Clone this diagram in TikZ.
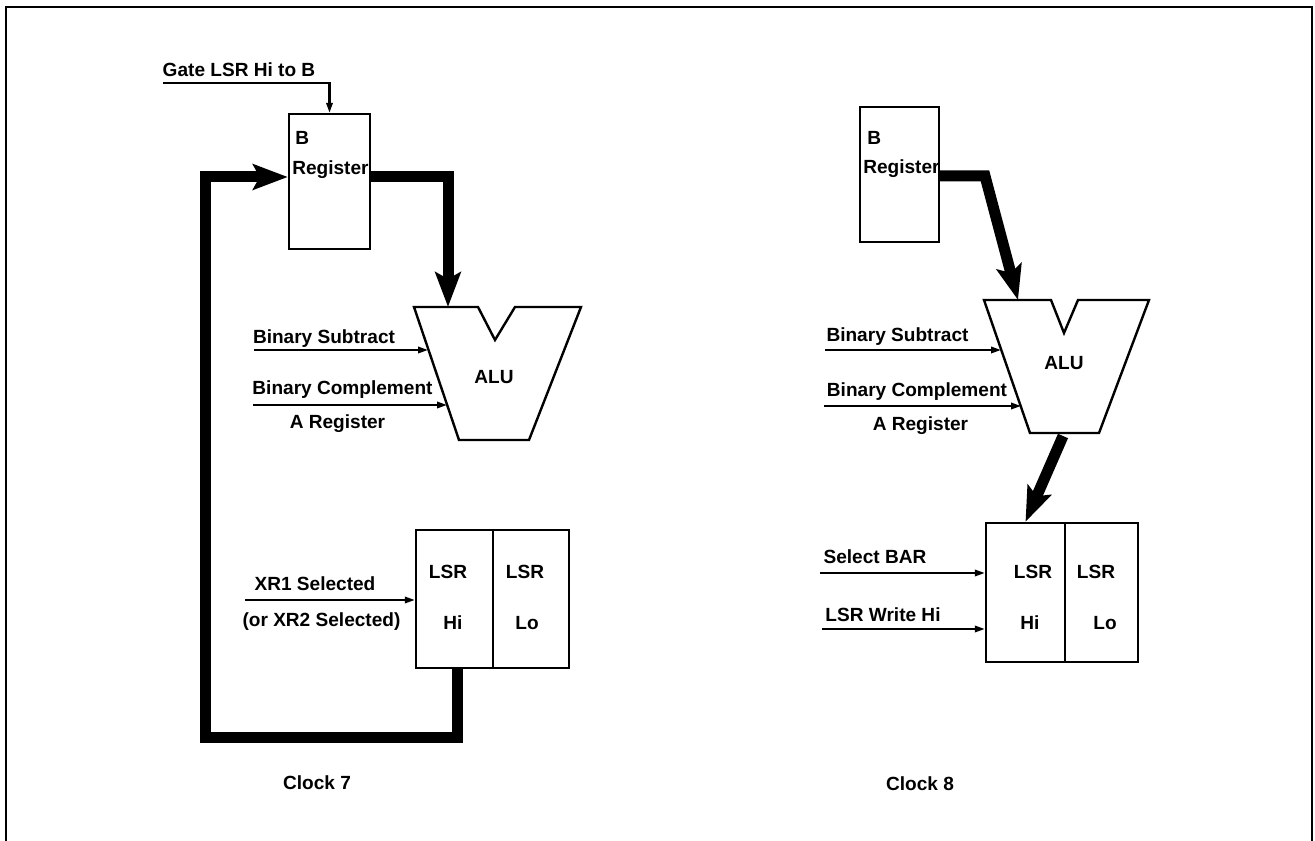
\documentclass[tikz,border=0pt]{standalone}
\usepackage{fontspec}
\setmainfont{Liberation Sans}
\usetikzlibrary{arrows.meta}
\begin{document}
\begin{tikzpicture}[x=0.75pt,y=-0.75pt,
  txt/.style={font=\bfseries\fontsize{14.3pt}{17pt}\selectfont, inner sep=0pt, anchor=base},
  txtw/.style={txt, anchor=base west},
  box/.style={draw, line width=1.8pt, inner sep=0pt},
  sig/.style={line width=1.6pt, -{Triangle[length=7.5pt,width=4.8pt]}},
  bus/.style={line width=8.25pt, line join=miter, -{Stealth[length=26pt,width=19pt,inset=5pt]}},
  frame/.style={line width=2pt},
  alushape/.style={draw, line width=1.8pt, line join=miter}]

\useasboundingbox (0,0) rectangle (1315,841);
\draw[frame] (6,841) -- (6,7) -- (1312,7) -- (1312,841);

% ---------------- Clock 7 ----------------
\node[box, minimum width=60.75pt, minimum height=101.25pt] (breg1) at (329.5,181.5) {};
\node[txtw] (breg1b) at (295,145) {B};
\node[txtw] (breg1r) at (292,175) {Register};

\coordinate (gate1) at (163,83);
\node[txt] (gate1t) at (239,77) {Gate LSR Hi to B};
\draw[sig] (gate1) -| (breg1.north);

\draw[alushape] (414,307) -- (478,307) -- (495,340) -- (515,307) -- (581,307)
  -- (529,440) -- (459,440) -- cycle;
\node[txt] (alu1) at (494,384) {ALU};

\node[txt] (bs1t) at (324,344) {Binary Subtract};
\coordinate (bs1s) at (254,350);
\coordinate (bs1e) at (428,350);
\draw[sig] (bs1s) -- (bs1e);

\node[txt] (bc1t) at (342.5,395) {Binary Complement};
\node[txt] (ar1t) at (337.5,429) {A Register};
\coordinate (bc1s) at (253,405);
\coordinate (bc1e) at (447,405);
\draw[sig] (bc1s) -- (bc1e);

\node[box, minimum width=57.75pt, minimum height=103.5pt] (lsr1h) at (454.5,599) {};
\node[box, minimum width=57pt, minimum height=103.5pt] (lsr1l) at (531,599) {};
\node[txt] (lsr1ht) at (448,579) {LSR};
\node[txt] (lsr1hh) at (453,629) {Hi};
\node[txt] (lsr1lt) at (525,579) {LSR};
\node[txt] (lsr1ll) at (527,629) {Lo};

\node[txt] (xr1t) at (315,590) {XR1 Selected};
\node[txt] (xr2t) at (321.5,627) {(or XR2 Selected)};
\coordinate (xr1s) at (245,600);
\draw[sig] (xr1s) -- (lsr1h.west |- xr1s);

\coordinate (b1y) at (0,177);
\coordinate (alu1top) at (448,307);
\draw[bus] (breg1.east |- b1y) -| (alu1top);
\coordinate (loopBL) at (205,737);
\draw[bus] ([xshift=1.9pt]lsr1h.south) |- (loopBL) |- (breg1.west |- b1y);

\node[txt] (clk7) at (317,789) {Clock 7};

% ---------------- Clock 8 ----------------
\node[box, minimum width=59.25pt, minimum height=101.25pt] (breg2) at (899.5,174.5) {};
\node[txtw] (breg2b) at (867,145) {B};
\node[txtw] (breg2r) at (863,174) {Register};

\draw[alushape] (984,300) -- (1051,300) -- (1064,333) -- (1078,300) -- (1149,300)
  -- (1099,433) -- (1030,433) -- cycle;
\node[txt] (alu2) at (1064,370) {ALU};

\node[txt] (bs2t) at (897.5,342) {Binary Subtract};
\coordinate (bs2s) at (825,350);
\coordinate (bs2e) at (1001,350);
\draw[sig] (bs2s) -- (bs2e);

\node[txt] (bc2t) at (917,397) {Binary Complement};
\node[txt] (ar2t) at (920.5,431) {A Register};
\coordinate (bc2s) at (824,406);
\coordinate (bc2e) at (1021,406);
\draw[sig] (bc2s) -- (bc2e);

\node[box, minimum width=59.25pt, minimum height=104.25pt] (lsr2h) at (1025.5,592.5) {};
\node[box, minimum width=54.75pt, minimum height=104.25pt] (lsr2l) at (1101.5,592.5) {};
\node[txt] (lsr2ht) at (1033,579) {LSR};
\node[txt] (lsr2hh) at (1030,629) {Hi};
\node[txt] (lsr2lt) at (1096,579) {LSR};
\node[txt] (lsr2ll) at (1105,629) {Lo};

\node[txt] (selt) at (875,564) {Select BAR};
\coordinate (sels) at (820,573);
\draw[sig] (sels) -- (lsr2h.west |- sels);
\node[txt] (wrt) at (883,622) {LSR Write Hi};
\coordinate (wrs) at (822,629);
\draw[sig] (wrs) -- (lsr2h.west |- wrs);

\coordinate (b2y) at (0,176);
\coordinate (b2c) at (985,176);
\coordinate (alu2top) at (1018,300);
\draw[bus] (breg2.east |- b2y) -- (b2c) -- (alu2top);
\coordinate (alu2bot) at (1063,436);
\draw[bus] (alu2bot) -- (lsr2h.north);

\node[txt] (clk8) at (920,790) {Clock 8};
\end{tikzpicture}
\end{document}
